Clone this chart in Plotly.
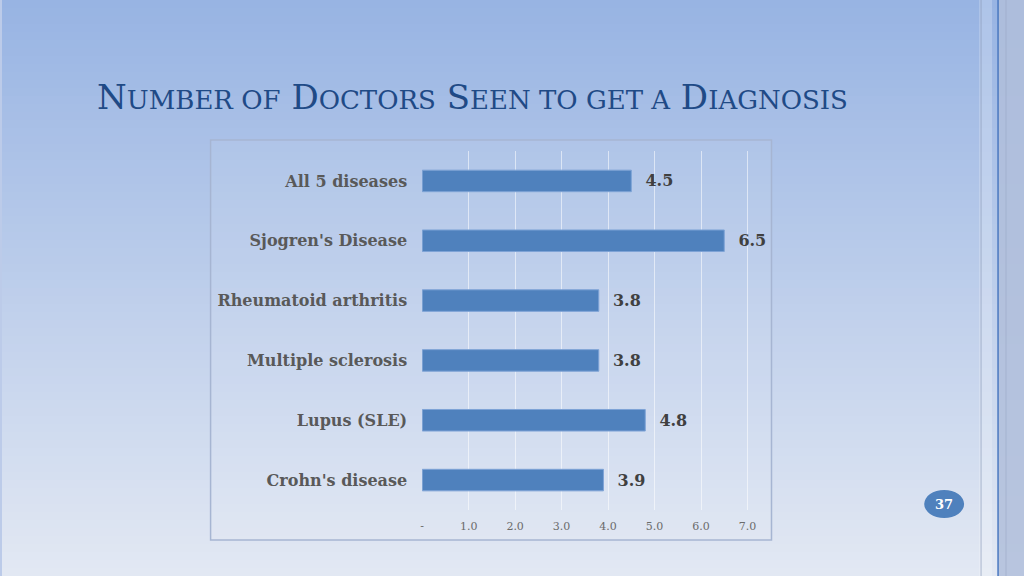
import plotly.graph_objs as go

# data
diseases = ['All 5 diseases', "Sjogren's Disease", 'Rheumatoid arthritis',
            'Multiple sclerosis', 'Lupus (SLE)', "Crohn's disease"]
doctors = [4.5, 6.5, 3.8, 3.8, 4.8, 3.9]
tick_vals = [0, 1, 2, 3, 4, 5, 6, 7]
tick_text = ['-', '1.0', '2.0', '3.0', '4.0', '5.0', '6.0', '7.0']

W, H = 1024, 576
def px(x):
    return x / W
def py(y):
    return 1 - y / H

def mix(c1, c2, t):
    return '#%02x%02x%02x' % tuple(int(round(a + (b - a) * t)) for a, b in zip(c1, c2))

shapes = []
# background gradient of the slide
top, bottom = (152, 180, 227), (226, 232, 243)
n = 72
for i in range(n):
    shapes.append(dict(type='rect', xref='paper', yref='paper', layer='below',
                       x0=0, x1=1, y0=py(H * (i + 1) / n) - 0.002, y1=py(H * i / n),
                       fillcolor=mix(top, bottom, i / (n - 1)), line=dict(width=0)))

# stripes on the right edge
shapes.append(dict(type='rect', xref='paper', yref='paper', layer='below',
                   x0=px(979), x1=px(992), y0=0, y1=1,
                   fillcolor='rgba(255,255,255,0.22)', line=dict(width=0)))
shapes.append(dict(type='line', xref='paper', yref='paper', layer='below',
                   x0=px(981), x1=px(981), y0=0, y1=1,
                   line=dict(color='rgba(140,155,185,0.45)', width=1.5)))
shapes.append(dict(type='rect', xref='paper', yref='paper', layer='below',
                   x0=px(998), x1=1, y0=0, y1=1,
                   fillcolor='rgba(176,190,218,0.85)', line=dict(width=0)))
shapes.append(dict(type='line', xref='paper', yref='paper', layer='below',
                   x0=px(1006), x1=px(1006), y0=0, y1=1,
                   line=dict(color='rgba(150,165,195,0.5)', width=1)))
shapes.append(dict(type='line', xref='paper', yref='paper', layer='below',
                   x0=px(998), x1=px(998), y0=0, y1=1,
                   line=dict(color='#4a78c0', width=1.5)))

# chart area box
shapes.append(dict(type='rect', xref='paper', yref='paper', layer='below',
                   x0=px(209), x1=px(771), y0=py(540), y1=py(140),
                   fillcolor='rgba(255,255,255,0.07)',
                   line=dict(color='#a6b5d2', width=1.5)))

# page number bubble
shapes.append(dict(type='circle', xref='paper', yref='paper',
                   x0=px(924), x1=px(964), y0=py(518), y1=py(490),
                   fillcolor='#4f81bd', line=dict(width=0)))

fig = go.Figure()
fig.add_trace(go.Bar(x=doctors, y=diseases, orientation='h',
                     marker=dict(color='#4f81bd', line=dict(color='#7ea3d6', width=1)),
                     text=['\u00a0\u00a0%.1f' % v for v in doctors],
                     textposition='outside', cliponaxis=False,
                     textfont=dict(family='DejaVu Serif', size=16, color='#404040',
                                   weight='bold')))

big, small = 34, 26
def sc(first, rest):
    return first + "<span style='font-size:%dpx'>%s</span>" % (small, rest)
title = ' '.join([sc('N', 'UMBER OF'), sc('D', 'OCTORS'), sc('S', 'EEN TO GET A'),
                  sc('D', 'IAGNOSIS')])

fig.update_layout(
    width=W, height=H, margin=dict(l=0, r=0, t=0, b=0),
    paper_bgcolor='#bccbe9', plot_bgcolor='rgba(0,0,0,0)',
    showlegend=False, bargap=0.64, shapes=shapes,
    xaxis=dict(domain=[px(421), px(758.6)], range=[0, 7.25],
               tickvals=tick_vals, ticktext=tick_text, ticks='',
               showgrid=True, gridcolor='rgba(255,255,255,0.55)', gridwidth=1,
               zeroline=False, showline=False, ticklabelstandoff=8,
               tickfont=dict(family='DejaVu Serif', size=11, color='#6b6b6b')),
    yaxis=dict(domain=[py(510), py(151)], autorange='reversed',
               ticks='', showgrid=False, showline=False, ticklabelstandoff=14,
               tickfont=dict(family='DejaVu Serif', size=16, color='#595959',
                             weight='bold')),
    annotations=[
        dict(text=title, xref='paper', yref='paper', x=px(93), y=py(97),
             xanchor='left', yanchor='middle', showarrow=False,
             font=dict(family='DejaVu Serif', size=big, color='#1f4a86')),
        dict(text='<b>37</b>', xref='paper', yref='paper', x=px(944), y=py(504),
             xanchor='center', yanchor='middle', showarrow=False,
             font=dict(family='DejaVu Serif', size=13, color='white')),
    ])

# drop the default page margin so the slide fills the window
fig.write_html('out.html', config={'displayModeBar': False},
               post_script="document.body.style.margin='0';")
